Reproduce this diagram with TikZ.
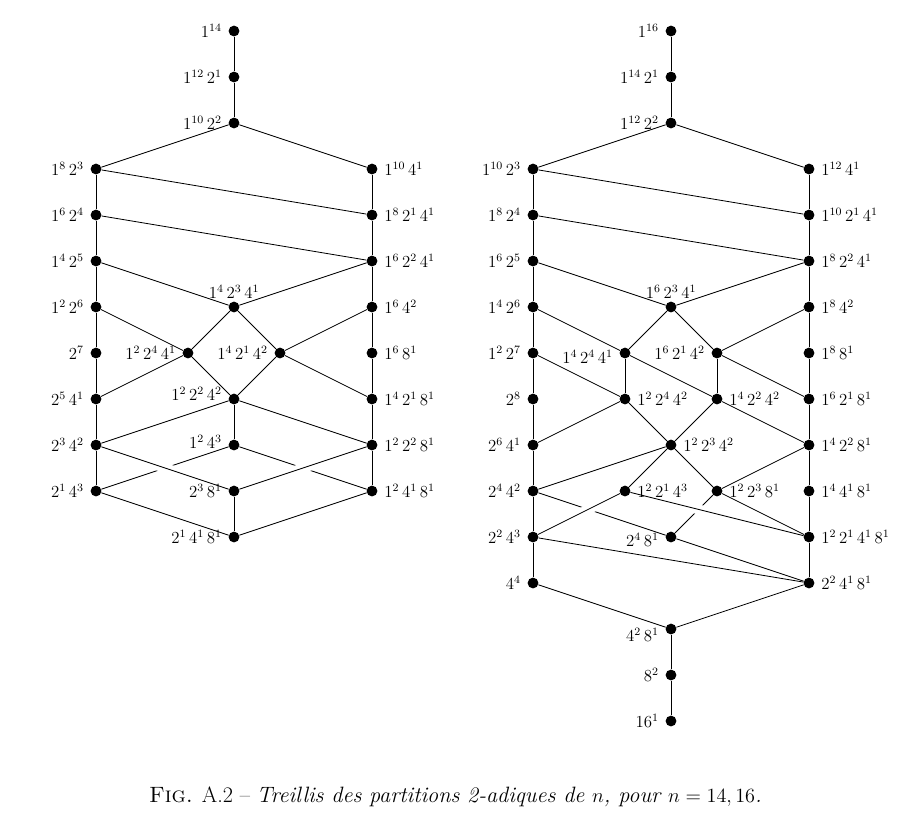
\documentclass[tikz,border=0pt]{standalone}
\usepackage{tikz}
\usetikzlibrary{backgrounds}
\tikzstyle{vertex}=[circle,fill,inner sep=0pt,minimum size=0.27cm]
\tikzstyle{edge}=[line width=0.6pt]
\tikzstyle{over}=[line width=0.6pt,preaction={draw=white,line width=7pt}]
\tikzstyle{every label}=[font=\fontsize{12}{14}\selectfont,inner sep=1pt]

\begin{document}
\begin{tikzpicture}[x=1.15cm,y=1.15cm,label distance=3.5pt]
\useasboundingbox (-5.087,0.674) rectangle (14.565,-17.152);

% n = 14
\node[vertex,label=left:{$1^{14}$}] (a0) at (0,0) {};
\node[vertex,label=left:{$1^{12}\,2^{1}$}] (a1) at (0,-1) {};
\node[vertex,label=left:{$1^{10}\,2^{2}$}] (a2) at (0,-2) {};
\node[vertex,label=left:{$1^{8}\,2^{3}$}] (a3l) at (-3,-3) {};
\node[vertex,label=right:{$1^{10}\,4^{1}$}] (a3r) at (3,-3) {};
\node[vertex,label=left:{$1^{6}\,2^{4}$}] (a4l) at (-3,-4) {};
\node[vertex,label=right:{$1^{8}\,2^{1}\,4^{1}$}] (a4r) at (3,-4) {};
\node[vertex,label=left:{$1^{4}\,2^{5}$}] (a5l) at (-3,-5) {};
\node[vertex,label=right:{$1^{6}\,2^{2}\,4^{1}$}] (a5r) at (3,-5) {};
\node[vertex,label=left:{$1^{2}\,2^{6}$}] (a6l) at (-3,-6) {};
\node[vertex,label={[label distance=1pt]above:{$1^{4}\,2^{3}\,4^{1}$}}] (a6m) at (0,-6) {};
\node[vertex,label=right:{$1^{6}\,4^{2}$}] (a6r) at (3,-6) {};
\node[vertex,label=left:{$2^{7}$}] (a7l) at (-3,-7) {};
\node[vertex,label=left:{$1^{2}\,2^{4}\,4^{1}$}] (a7x) at (-1,-7) {};
\node[vertex,label=left:{$1^{4}\,2^{1}\,4^{2}$}] (a7y) at (1,-7) {};
\node[vertex,label=right:{$1^{6}\,8^{1}$}] (a7r) at (3,-7) {};
\node[vertex,label=left:{$2^{5}\,4^{1}$}] (a8l) at (-3,-8) {};
\node[vertex,label={[yshift=3.5pt]left:{$1^{2}\,2^{2}\,4^{2}$}}] (a8m) at (0,-8) {};
\node[vertex,label=right:{$1^{4}\,2^{1}\,8^{1}$}] (a8r) at (3,-8) {};
\node[vertex,label=left:{$2^{3}\,4^{2}$}] (a9l) at (-3,-9) {};
\node[vertex,label={[yshift=2pt]left:{$1^{2}\,4^{3}$}}] (a9m) at (0,-9) {};
\node[vertex,label=right:{$1^{2}\,2^{2}\,8^{1}$}] (a9r) at (3,-9) {};
\node[vertex,label=left:{$2^{1}\,4^{3}$}] (a10l) at (-3,-10) {};
\node[vertex,label=left:{$2^{3}\,8^{1}$}] (a10m) at (0,-10) {};
\node[vertex,label=right:{$1^{2}\,4^{1}\,8^{1}$}] (a10r) at (3,-10) {};
\node[vertex,label=left:{$2^{1}\,4^{1}\,8^{1}$}] (a11) at (0,-11) {};

\begin{scope}[on background layer]
\draw[edge] (a9m)--(a10l);
\draw[edge] (a9m)--(a10r);
\draw[over] (a9l)--(a10m);
\draw[over] (a9r)--(a10m);

\draw[edge] (a0)--(a1)--(a2);
\draw[edge] (a2)--(a3l);
\draw[edge] (a2)--(a3r);
\draw[edge] (a3l)--(a4l)--(a5l)--(a6l)--(a7l)--(a8l)--(a9l)--(a10l);
\draw[edge] (a3r)--(a4r)--(a5r)--(a6r)--(a7r)--(a8r)--(a9r)--(a10r);
\draw[edge] (a3l)--(a4r);
\draw[edge] (a4l)--(a5r);
\draw[edge] (a5l)--(a6m);
\draw[edge] (a5r)--(a6m);
\draw[edge] (a6l)--(a7x);
\draw[edge] (a6m)--(a7x);
\draw[edge] (a6m)--(a7y);
\draw[edge] (a6r)--(a7y);
\draw[edge] (a7x)--(a8l);
\draw[edge] (a7x)--(a8m);
\draw[edge] (a7y)--(a8m);
\draw[edge] (a7y)--(a8r);
\draw[edge] (a8m)--(a9l);
\draw[edge] (a8m)--(a9m);
\draw[edge] (a8m)--(a9r);
\draw[edge] (a10l)--(a11);
\draw[edge] (a10m)--(a11);
\draw[edge] (a10r)--(a11);
\end{scope}

% n = 16
\node[vertex,label=left:{$1^{16}$}] (b0) at (9.5,0) {};
\node[vertex,label=left:{$1^{14}\,2^{1}$}] (b1) at (9.5,-1) {};
\node[vertex,label=left:{$1^{12}\,2^{2}$}] (b2) at (9.5,-2) {};
\node[vertex,label=left:{$1^{10}\,2^{3}$}] (b3l) at (6.5,-3) {};
\node[vertex,label=right:{$1^{12}\,4^{1}$}] (b3r) at (12.5,-3) {};
\node[vertex,label=left:{$1^{8}\,2^{4}$}] (b4l) at (6.5,-4) {};
\node[vertex,label=right:{$1^{10}\,2^{1}\,4^{1}$}] (b4r) at (12.5,-4) {};
\node[vertex,label=left:{$1^{6}\,2^{5}$}] (b5l) at (6.5,-5) {};
\node[vertex,label=right:{$1^{8}\,2^{2}\,4^{1}$}] (b5r) at (12.5,-5) {};
\node[vertex,label=left:{$1^{4}\,2^{6}$}] (b6l) at (6.5,-6) {};
\node[vertex,label={[label distance=1pt]above:{$1^{6}\,2^{3}\,4^{1}$}}] (b6m) at (9.5,-6) {};
\node[vertex,label=right:{$1^{8}\,4^{2}$}] (b6r) at (12.5,-6) {};
\node[vertex,label=left:{$1^{2}\,2^{7}$}] (b7l) at (6.5,-7) {};
\node[vertex,label={[yshift=-3pt]left:{$1^{4}\,2^{4}\,4^{1}$}}] (b7x) at (8.5,-7) {};
\node[vertex,label=left:{$1^{6}\,2^{1}\,4^{2}$}] (b7y) at (10.5,-7) {};
\node[vertex,label=right:{$1^{8}\,8^{1}$}] (b7r) at (12.5,-7) {};
\node[vertex,label=left:{$2^{8}$}] (b8l) at (6.5,-8) {};
\node[vertex,label=right:{$1^{2}\,2^{4}\,4^{2}$}] (b8x) at (8.5,-8) {};
\node[vertex,label=right:{$1^{4}\,2^{2}\,4^{2}$}] (b8y) at (10.5,-8) {};
\node[vertex,label=right:{$1^{6}\,2^{1}\,8^{1}$}] (b8r) at (12.5,-8) {};
\node[vertex,label=left:{$2^{6}\,4^{1}$}] (b9l) at (6.5,-9) {};
\node[vertex,label=right:{$1^{2}\,2^{3}\,4^{2}$}] (b9m) at (9.5,-9) {};
\node[vertex,label=right:{$1^{4}\,2^{2}\,8^{1}$}] (b9r) at (12.5,-9) {};
\node[vertex,label=left:{$2^{4}\,4^{2}$}] (b10l) at (6.5,-10) {};
\node[vertex,label=right:{$1^{2}\,2^{1}\,4^{3}$}] (b10x) at (8.5,-10) {};
\node[vertex,label=right:{$1^{2}\,2^{3}\,8^{1}$}] (b10y) at (10.5,-10) {};
\node[vertex,label=right:{$1^{4}\,4^{1}\,8^{1}$}] (b10r) at (12.5,-10) {};
\node[vertex,label=left:{$2^{2}\,4^{3}$}] (b11l) at (6.5,-11) {};
\node[vertex,label={[yshift=-2pt]left:{$2^{4}\,8^{1}$}}] (b11m) at (9.5,-11) {};
\node[vertex,label=right:{$1^{2}\,2^{1}\,4^{1}\,8^{1}$}] (b11r) at (12.5,-11) {};
\node[vertex,label=left:{$4^{4}$}] (b12l) at (6.5,-12) {};
\node[vertex,label=right:{$2^{2}\,4^{1}\,8^{1}$}] (b12r) at (12.5,-12) {};
\node[vertex,label={[yshift=-4pt]left:{$4^{2}\,8^{1}$}}] (b13) at (9.5,-13) {};
\node[vertex,label=left:{$8^{2}$}] (b14) at (9.5,-14) {};
\node[vertex,label=left:{$16^{1}$}] (b15) at (9.5,-15) {};

\begin{scope}[on background layer]
\draw[edge] (b10l)--(b11m);
\draw[edge] (b10y)--(b11m);
\draw[over] (b11l)--(b10x);
\draw[over] (b10x)--(b11r);

\draw[edge] (b0)--(b1)--(b2);
\draw[edge] (b2)--(b3l);
\draw[edge] (b2)--(b3r);
\draw[edge] (b3l)--(b4l)--(b5l)--(b6l)--(b7l)--(b8l)--(b9l)--(b10l)--(b11l)--(b12l);
\draw[edge] (b3r)--(b4r)--(b5r)--(b6r)--(b7r)--(b8r)--(b9r)--(b10r)--(b11r)--(b12r);
\draw[edge] (b3l)--(b4r);
\draw[edge] (b4l)--(b5r);
\draw[edge] (b5l)--(b6m);
\draw[edge] (b5r)--(b6m);
\draw[edge] (b6l)--(b7x);
\draw[edge] (b6m)--(b7x);
\draw[edge] (b6m)--(b7y);
\draw[edge] (b6r)--(b7y);
\draw[edge] (b7l)--(b8x);
\draw[edge] (b7x)--(b8x);
\draw[edge] (b7x)--(b8y);
\draw[edge] (b7y)--(b8y);
\draw[edge] (b7y)--(b8r);
\draw[edge] (b8x)--(b9l);
\draw[edge] (b8x)--(b9m);
\draw[edge] (b8y)--(b9m);
\draw[edge] (b8y)--(b9r);
\draw[edge] (b9m)--(b10l);
\draw[edge] (b9m)--(b10x);
\draw[edge] (b9m)--(b10y);
\draw[edge] (b9r)--(b10y);
\draw[edge] (b10y)--(b11r);
\draw[edge] (b11l)--(b12r);
\draw[edge] (b11m)--(b12r);
\draw[edge] (b12l)--(b13);
\draw[edge] (b12r)--(b13);
\draw[edge] (b13)--(b14)--(b15);
\end{scope}

\node (caption) at (4.815,-16.65) {\fontsize{15.8}{18}\selectfont\textsc{Fig.} A.2 -- \textit{Treillis des partitions 2-adiques de $n$, pour $n=14,16$.}};
\end{tikzpicture}
\end{document}
